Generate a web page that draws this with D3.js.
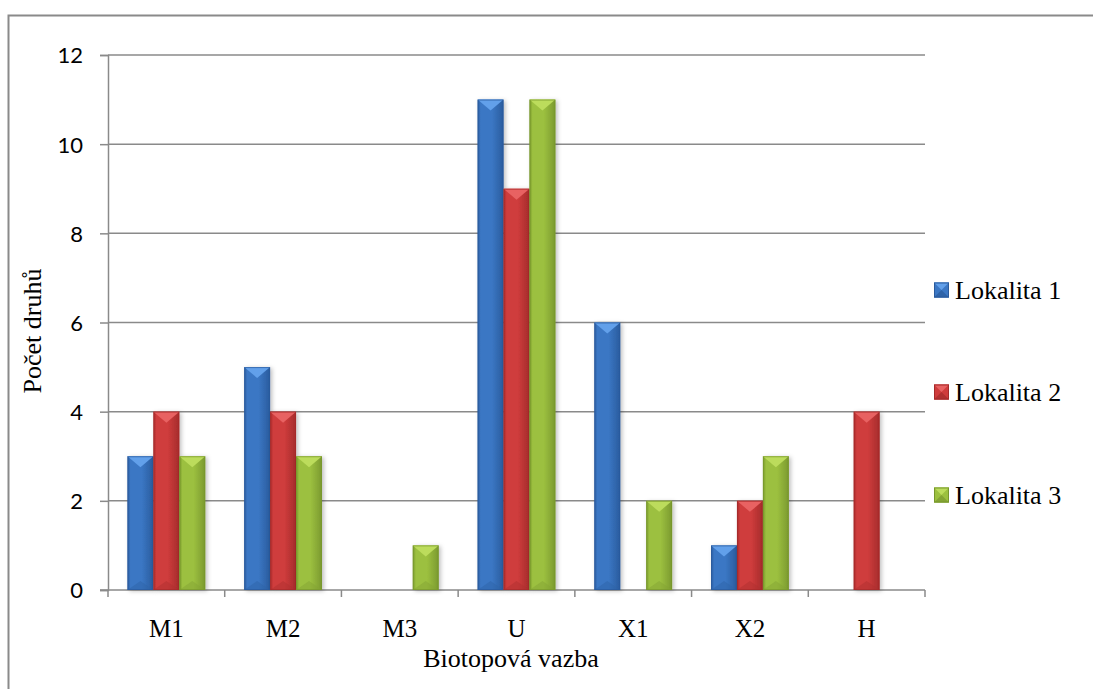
<!DOCTYPE html>
<meta charset="utf-8">
<head>
<style>
  body { margin: 0; background: #fff; }
  svg { display: block; }
</style>
</head>
<body>
<script src="https://cdnjs.cloudflare.com/ajax/libs/d3/7.8.5/d3.min.js"></script>
<script>

// data
const categories = ["M1", "M2", "M3", "U", "X1", "X2", "H"];
const seriesNames = ["Lokalita 1", "Lokalita 2", "Lokalita 3"];
const lokalita1 = [3, 5, 0, 11, 6, 1, 0];
const lokalita2 = [4, 4, 0, 9, 0, 2, 4];
const lokalita3 = [3, 3, 1, 11, 2, 3, 0];
const yTicks = [0, 2, 4, 6, 8, 10, 12];

const seriesValues = [lokalita1, lokalita2, lokalita3];

const SERIF = "'Liberation Serif', 'Times New Roman', serif";
const SANS = "Lato, 'Open Sans', sans-serif";

// colours: body, dark edge, light top, dark bottom
const palette = [
  {base: "#3b77c4", edge: "#2a5a9c", light: "#62a0ea", dark: "#2e63a8"},
  {base: "#cf3c3c", edge: "#a52a2a", light: "#e86262", dark: "#b03030"},
  {base: "#9cc03f", edge: "#77972c", light: "#bcdc5c", dark: "#84a434"}
];

const W = 1093, H = 689;
const plot = {left: 108, right: 925, top: 55, bottom: 590};

const svg = d3.select("body").append("svg")
  .attr("width", W)
  .attr("height", H);

const defs = svg.append("defs");

palette.forEach((p, i) => {
  const g = defs.append("linearGradient")
    .attr("id", "grad" + i)
    .attr("x1", "0").attr("x2", "1").attr("y1", "0").attr("y2", "0");
  g.append("stop").attr("offset", "0").attr("stop-color", p.edge);
  g.append("stop").attr("offset", "0.12").attr("stop-color", p.base);
  g.append("stop").attr("offset", "0.55").attr("stop-color", p.base);
  g.append("stop").attr("offset", "0.88").attr("stop-color", p.dark);
  g.append("stop").attr("offset", "1").attr("stop-color", p.edge);
});

const shadow = defs.append("filter").attr("id", "shadow")
  .attr("x", "-30%").attr("y", "-10%").attr("width", "160%").attr("height", "120%");
shadow.append("feDropShadow")
  .attr("dx", 2).attr("dy", 1).attr("stdDeviation", 2)
  .attr("flood-color", "#000").attr("flood-opacity", 0.25);

// outer frame (runs past the window on right and bottom)
svg.append("rect")
  .attr("x", 8.5).attr("y", 15.5)
  .attr("width", 1300).attr("height", 900)
  .attr("fill", "none")
  .attr("stroke", "#8a8a8a")
  .attr("stroke-width", 2);

const x0 = d3.scaleBand()
  .domain(categories)
  .range([plot.left, plot.right]);

const x1 = d3.scaleBand()
  .domain(d3.range(seriesNames.length))
  .range([0, x0.bandwidth()])
  .paddingInner(0)
  .paddingOuter(0.75);

const y = d3.scaleLinear()
  .domain([0, 12])
  .range([plot.bottom, plot.top]);

// gridlines
svg.append("g")
  .selectAll("line")
  .data(yTicks.filter(d => d > 0))
  .join("line")
    .attr("x1", plot.left).attr("x2", plot.right)
    .attr("y1", d => y(d)).attr("y2", d => y(d))
    .attr("stroke", "#8a8a8a")
    .attr("stroke-width", 1.5);

// y axis
const yAxis = d3.axisLeft(y).tickValues(yTicks).tickSize(8).tickPadding(17);
const gy = svg.append("g")
  .attr("transform", "translate(" + plot.left + ",0)")
  .call(yAxis)
  .attr("font-family", SANS)
  .attr("font-size", 22);
gy.select(".domain").attr("stroke", "#8a8a8a").attr("stroke-width", 1.5);
gy.selectAll(".tick line").attr("stroke", "#8a8a8a").attr("stroke-width", 1.5);
gy.selectAll(".tick text").attr("fill", "#000").attr("dy", "0.36em");

// x axis: line, boundary ticks, labels
const gx = svg.append("g");
gx.append("line")
  .attr("x1", plot.left - 8).attr("x2", plot.right)
  .attr("y1", plot.bottom).attr("y2", plot.bottom)
  .attr("stroke", "#8a8a8a").attr("stroke-width", 1.5);
const bounds = categories.map(c => x0(c)).concat([x0(categories[categories.length - 1]) + x0.bandwidth()]);
gx.selectAll("line.bt")
  .data(bounds)
  .join("line")
    .attr("class", "bt")
    .attr("x1", d => d).attr("x2", d => d)
    .attr("y1", plot.bottom).attr("y2", plot.bottom + 7)
    .attr("stroke", "#8a8a8a").attr("stroke-width", 1.5);
gx.selectAll("text")
  .data(categories)
  .join("text")
    .attr("x", d => x0(d) + x0.bandwidth() / 2)
    .attr("y", 637)
    .attr("text-anchor", "middle")
    .style("font-family", SERIF)
    .style("font-size", "25px")
    .text(d => d);

// bars with a bevel look
const barsData = [];
categories.forEach((c, ci) => {
  seriesValues.forEach((vals, si) => {
    if (vals[ci] > 0) barsData.push({cat: c, s: si, v: vals[ci]});
  });
});

const bars = svg.append("g")
  .selectAll("g")
  .data(barsData)
  .join("g")
    .attr("transform", d => "translate(" + (x0(d.cat) + x1(d.s)) + "," + y(d.v) + ")");

const bw = x1.bandwidth();

bars.append("rect")
  .attr("width", bw)
  .attr("height", d => y(0) - y(d.v))
  .attr("fill", d => "url(#grad" + d.s + ")")
  .attr("filter", "url(#shadow)");

// lighter top facet
bars.append("path")
  .attr("d", "M0,0 L" + bw + ",0 L" + (bw / 2) + ",11 Z")
  .attr("fill", d => palette[d.s].light);

// darker bottom facet
bars.append("path")
  .attr("d", d => {
    const h = y(0) - y(d.v);
    return "M0," + h + " L" + bw + "," + h + " L" + (bw / 2) + "," + (h - 9) + " Z";
  })
  .attr("fill", d => palette[d.s].dark)
  .attr("opacity", 0.5);

bars.append("rect")
  .attr("x", 0.5).attr("y", 0.5)
  .attr("width", bw - 1)
  .attr("height", d => y(0) - y(d.v) - 1)
  .attr("fill", "none")
  .attr("stroke", d => palette[d.s].edge)
  .attr("stroke-width", 1)
  .attr("opacity", 0.7);

// axis titles
svg.append("text")
  .attr("transform", "translate(41,331) rotate(-90)")
  .attr("text-anchor", "middle")
  .style("font-family", SERIF)
  .style("font-size", "26px")
  .text("Počet druhů");

svg.append("text")
  .attr("x", 511)
  .attr("y", 667)
  .attr("text-anchor", "middle")
  .style("font-family", SERIF)
  .style("font-size", "26px")
  .text("Biotopová vazba");

// legend
const legendY = [290, 392, 495];
const lg = svg.append("g")
  .selectAll("g")
  .data(seriesNames)
  .join("g")
    .attr("transform", (d, i) => "translate(934," + legendY[i] + ")");

const s = 15;
lg.append("rect")
  .attr("x", 0).attr("y", -s / 2)
  .attr("width", s).attr("height", s)
  .attr("fill", (d, i) => palette[i].base);
lg.append("path")
  .attr("d", "M0," + (-s / 2) + " L" + s + "," + (-s / 2) + " L" + (s / 2) + ",0 Z")
  .attr("fill", (d, i) => palette[i].light);
lg.append("path")
  .attr("d", "M0," + (s / 2) + " L" + s + "," + (s / 2) + " L" + (s / 2) + ",0 Z")
  .attr("fill", (d, i) => palette[i].dark);
lg.append("rect")
  .attr("x", 0.5).attr("y", -s / 2 + 0.5)
  .attr("width", s - 1).attr("height", s - 1)
  .attr("fill", "none")
  .attr("stroke", (d, i) => palette[i].edge);
lg.append("text")
  .attr("x", 21)
  .attr("y", 9)
  .style("font-family", SERIF)
  .style("font-size", "26px")
  .text(d => d);

</script>
</body>
